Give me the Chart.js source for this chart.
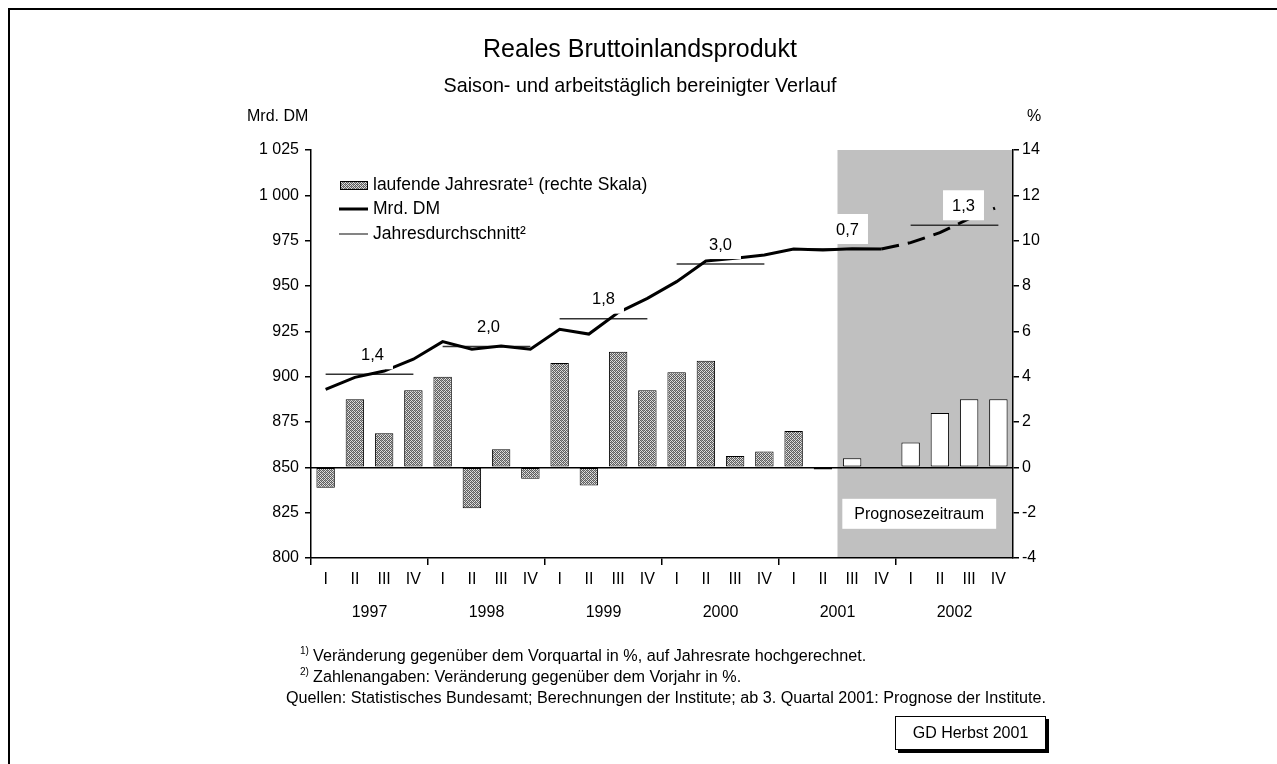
<!DOCTYPE html>
<html>
<head>
<meta charset="utf-8">
<script src="https://cdn.jsdelivr.net/npm/chart.js@4.4.1/dist/chart.umd.min.js"></script>
<style>
html,body{margin:0;padding:0;background:#fff;}
canvas{display:block;}
</style>
</head>
<body>
<canvas id="c" width="1277" height="764" style="width:1277px;height:764px"></canvas>
<script>
// ---------- data ----------
const quarters = ['I', 'II', 'III', 'IV'];
const years = ['1997', '1998', '1999', '2000', '2001', '2002'];
const rateValues = [-0.9, 3.0, 1.5, 3.4, 4.0, -1.8, 0.8, -0.5, 4.6, -0.8, 5.1, 3.4,
                    4.2, 4.7, 0.5, 0.7, 1.6, -0.1, 0.4, 0.0, 1.1, 2.4, 3.0, 3.0];
const gdpValues = [893.0, 899.6, 903.1, 909.6, 919.3, 915.1, 916.9, 915.1, 926.1, 923.5, 935.3, 943.2,
                   952.4, 963.8, 965.3, 967.1, 970.4, 969.9, 970.6, 970.4, 973.9, 979.4, 987.1, 993.7];
const yearAvgValues = [901.3, 916.6, 932.0, 962.1, 970.4, 983.5];
const yearAvgLabels = ['1,4', '2,0', '1,8', '3,0', '0,7', '1,3'];
const leftAxis = { min: 800, max: 1025, step: 25 };
const rightAxis = { min: -4, max: 14, step: 2 };
const forecastStart = 18; // 2001 III
const seriesNames = ['laufende Jahresrate\u00B9 (rechte Skala)', 'Mrd. DM', 'Jahresdurchschnitt\u00B2'];
const titleText = 'Reales Bruttoinlandsprodukt';
const subtitleText = 'Saison- und arbeitst\u00E4glich bereinigter Verlauf';
const leftUnit = 'Mrd. DM';
const rightUnit = '%';
const forecastText = 'Prognosezeitraum';
const footnotes = [
  ['1)', 'Ver\u00E4nderung gegen\u00FCber dem Vorquartal in %, auf Jahresrate hochgerechnet.'],
  ['2)', 'Zahlenangaben: Ver\u00E4nderung gegen\u00FCber dem Vorjahr in %.'],
  ['', 'Quellen: Statistisches Bundesamt; Berechnungen der Institute; ab 3. Quartal 2001: Prognose der Institute.']
];
const stampText = 'GD Herbst 2001';

// ---------- derived tables ----------
const categories = years.flatMap(() => quarters);
const avgSeries = categories.map((_, i) => yearAvgValues[Math.floor(i / 4)]);

// ---------- styling ----------
const FAM = '"Liberation Sans", Arial, Helvetica, sans-serif';
Chart.defaults.font.family = FAM;
Chart.defaults.color = '#000';

function makePattern() {
  const p = document.createElement('canvas');
  p.width = 4; p.height = 4;
  const g = p.getContext('2d');
  g.fillStyle = '#dedede'; g.fillRect(0, 0, 4, 4);
  g.fillStyle = '#5e5e5e';
  [[0,0],[2,0],[1,1],[3,1],[0,2],[2,2],[1,3],[3,3]].forEach(([a,b]) => g.fillRect(a, b, 1, 1));
  g.fillStyle = '#9a9a9a';
  [[1,0],[3,2]].forEach(([a,b]) => g.fillRect(a, b, 1, 1));
  return document.getElementById('c').getContext('2d').createPattern(p, 'repeat');
}
const stipple = makePattern();

function fmtThousands(v) {
  return String(v).replace(/\B(?=(\d{3})+(?!\d))/g, ' ');
}

const decor = {
  id: 'decor',
  beforeDraw(chart) {
    const { ctx, chartArea: a, scales: { x } } = chart;
    const x0 = (x.getPixelForValue(forecastStart - 1) + x.getPixelForValue(forecastStart)) / 2;
    ctx.save();
    ctx.fillStyle = '#c0c0c0';
    ctx.fillRect(x0, a.top, a.right - x0, a.bottom - a.top);
    ctx.restore();
  },
  afterDatasetsDraw(chart) {
    const { ctx, chartArea: a, scales: { x, y, y1 } } = chart;
    const shifts = [3, 2, 0, 0, 10, 9];
    ctx.save();
    ctx.font = '16.5px ' + FAM;
    ctx.textAlign = 'center';
    ctx.textBaseline = 'middle';
    yearAvgLabels.forEach((t, k) => {
      const xc = (x.getPixelForValue(4 * k) + x.getPixelForValue(4 * k + 3)) / 2 + shifts[k];
      const yc = y.getPixelForValue(yearAvgValues[k]) - 20;
      const w = ctx.measureText(t).width + 18;
      ctx.fillStyle = '#fff';
      ctx.fillRect(xc - w / 2, yc - 15, w, 30);
      ctx.fillStyle = '#000';
      ctx.fillText(t, xc, yc + 1);
    });
    // forecast box
    ctx.font = '16px ' + FAM;
    const x0 = (x.getPixelForValue(forecastStart - 1) + x.getPixelForValue(forecastStart)) / 2;
    const fx = (x0 + a.right) / 2 - 6;
    const fy = y1.getPixelForValue(-2.05);
    const fw = ctx.measureText(forecastText).width + 24;
    ctx.fillStyle = '#fff';
    ctx.fillRect(fx - fw / 2, fy - 15, fw, 30);
    ctx.fillStyle = '#000';
    ctx.fillText(forecastText, fx, fy + 1);
    ctx.restore();
  },
  afterDraw(chart) {
    const { ctx, chartArea: a, scales: { x } } = chart;
    ctx.save();
    ctx.fillStyle = '#000';
    ctx.textBaseline = 'middle';
    // frame
    ctx.fillRect(8, 8, 2, 756);
    ctx.fillRect(8, 8, 1269, 2);
    // titles
    ctx.textAlign = 'center';
    ctx.font = '22px ' + FAM;
    let w = ctx.measureText(titleText).width;
    ctx.font = (22 * 314 / w).toFixed(2) + 'px ' + FAM;
    ctx.fillText(titleText, 640, 50);
    ctx.font = '16px ' + FAM;
    w = ctx.measureText(subtitleText).width;
    ctx.font = (16 * 393 / w).toFixed(2) + 'px ' + FAM;
    ctx.fillText(subtitleText, 640, 87);
    // units
    ctx.font = '16px ' + FAM;
    ctx.textAlign = 'left';
    ctx.fillText(leftUnit, 247, 117);
    ctx.fillText(rightUnit, 1027, 117);
    // year labels
    ctx.textAlign = 'center';
    years.forEach((yr, k) => {
      const xc = (x.getPixelForValue(4 * k) + x.getPixelForValue(4 * k + 3)) / 2;
      ctx.fillText(yr, xc, 613);
    });
    // legend
    ctx.textAlign = 'left';
    const rows = [185, 209, 234];
    ctx.fillStyle = stipple;
    ctx.fillRect(340, 181, 28, 9);
    ctx.strokeStyle = '#000';
    ctx.lineWidth = 1;
    ctx.strokeRect(340.5, 181.5, 27, 8);
    ctx.lineWidth = 3;
    ctx.beginPath(); ctx.moveTo(339, rows[1]); ctx.lineTo(368, rows[1]); ctx.stroke();
    ctx.lineWidth = 1.2;
    ctx.strokeStyle = '#333';
    ctx.beginPath(); ctx.moveTo(339, rows[2]); ctx.lineTo(368, rows[2]); ctx.stroke();
    ctx.fillStyle = '#000';
    ctx.font = '17.5px ' + FAM;
    seriesNames.forEach((t, i) => ctx.fillText(t, 373, rows[i]));
    // footnotes
    ctx.textBaseline = 'alphabetic';
    const ff = '"Liberation Sans Narrow", "Liberation Sans", Arial, sans-serif';
    ctx.font = '16px ' + ff;
    const sc = 760 / ctx.measureText(footnotes[2][1]).width;
    const drawScaled = (t, px, py) => { ctx.save(); ctx.translate(px, py); ctx.scale(sc, 1); ctx.fillText(t, 0, 0); ctx.restore(); };
    const lineY = [661, 682, 703];
    footnotes.forEach(([sup, t], i) => {
      if (sup) {
        ctx.font = '10px ' + ff;
        drawScaled(sup, 300, lineY[i] - 7);
        ctx.font = '16px ' + ff;
        drawScaled(t, 313, lineY[i]);
      } else {
        ctx.font = '16px ' + ff;
        drawScaled(t, 286, lineY[i]);
      }
    });
    // stamp box
    ctx.fillStyle = '#000';
    ctx.fillRect(898, 719, 151, 34);
    ctx.fillStyle = '#fff';
    ctx.fillRect(895, 716, 151, 34);
    ctx.strokeStyle = '#000';
    ctx.lineWidth = 1;
    ctx.strokeRect(895.5, 716.5, 150, 33);
    ctx.fillStyle = '#000';
    ctx.textAlign = 'center';
    ctx.textBaseline = 'middle';
    ctx.font = '16px ' + FAM;
    ctx.fillText(stampText, 970.5, 734);
    ctx.restore();
  }
};

new Chart(document.getElementById('c'), {
  data: {
    labels: categories,
    datasets: [
      {
        type: 'line', label: seriesNames[1], data: gdpValues, yAxisID: 'y',
        borderColor: '#000', borderWidth: 3, pointRadius: 0, tension: 0, order: 1,
        borderCapStyle: 'butt',
        segment: {
          borderDash: c => c.p0DataIndex >= 22 ? [2, 11] : (c.p0DataIndex >= 19 ? [18, 9] : undefined)
        }
      },
      {
        type: 'line', label: seriesNames[2], data: avgSeries, yAxisID: 'y',
        borderColor: '#333', borderWidth: 1.5, pointRadius: 0, tension: 0, order: 2,
        segment: {
          borderColor: c => Math.floor(c.p0DataIndex / 4) !== Math.floor(c.p1DataIndex / 4) ? 'rgba(0,0,0,0)' : '#333'
        }
      },
      {
        type: 'bar', label: seriesNames[0], data: rateValues, yAxisID: 'y1',
        backgroundColor: c => c.dataIndex >= forecastStart ? '#fff' : stipple,
        borderColor: '#000', borderWidth: 1, borderSkipped: false,
        barPercentage: 0.63, categoryPercentage: 1.0, order: 3
      }
    ]
  },
  options: {
    responsive: false,
    animation: false,
    devicePixelRatio: 1,
    layout: { padding: { top: 150, left: 0, right: 0, bottom: 0 } },
    plugins: { legend: { display: false }, tooltip: { enabled: false }, title: { display: false } },
    scales: {
      x: {
        type: 'category', offset: true,
        grid: {
          offset: true, drawOnChartArea: false, tickLength: 7, lineWidth: 1.5,
          color: c => c.index % 4 === 0 ? '#000' : 'rgba(0,0,0,0)'
        },
        border: { color: '#000', width: 1.5 },
        ticks: { color: '#000', font: { size: 16 }, padding: 5, maxRotation: 0, autoSkip: false },
        afterFit: s => { s.height = 206; }
      },
      y: {
        position: 'left', min: leftAxis.min, max: leftAxis.max,
        ticks: { stepSize: leftAxis.step, color: '#000', font: { size: 16 }, padding: 6, callback: v => fmtThousands(v) },
        grid: { drawOnChartArea: false, color: '#000', tickLength: 6, lineWidth: 1.5 },
        border: { color: '#000', width: 1.5 },
        afterFit: s => { s.width = 311; }
      },
      y1: {
        position: 'right', min: rightAxis.min, max: rightAxis.max,
        ticks: { stepSize: rightAxis.step, color: '#000', font: { size: 16 }, padding: 3 },
        grid: {
          drawOnChartArea: true, tickLength: 6, lineWidth: 1.5, tickColor: '#000',
          color: c => (c.tick && c.tick.value === 0) ? '#000' : 'rgba(0,0,0,0)'
        },
        border: { color: '#000', width: 1.5 },
        afterFit: s => { s.width = 264; }
      }
    }
  },
  plugins: [decor]
});
</script>
</body>
</html>
